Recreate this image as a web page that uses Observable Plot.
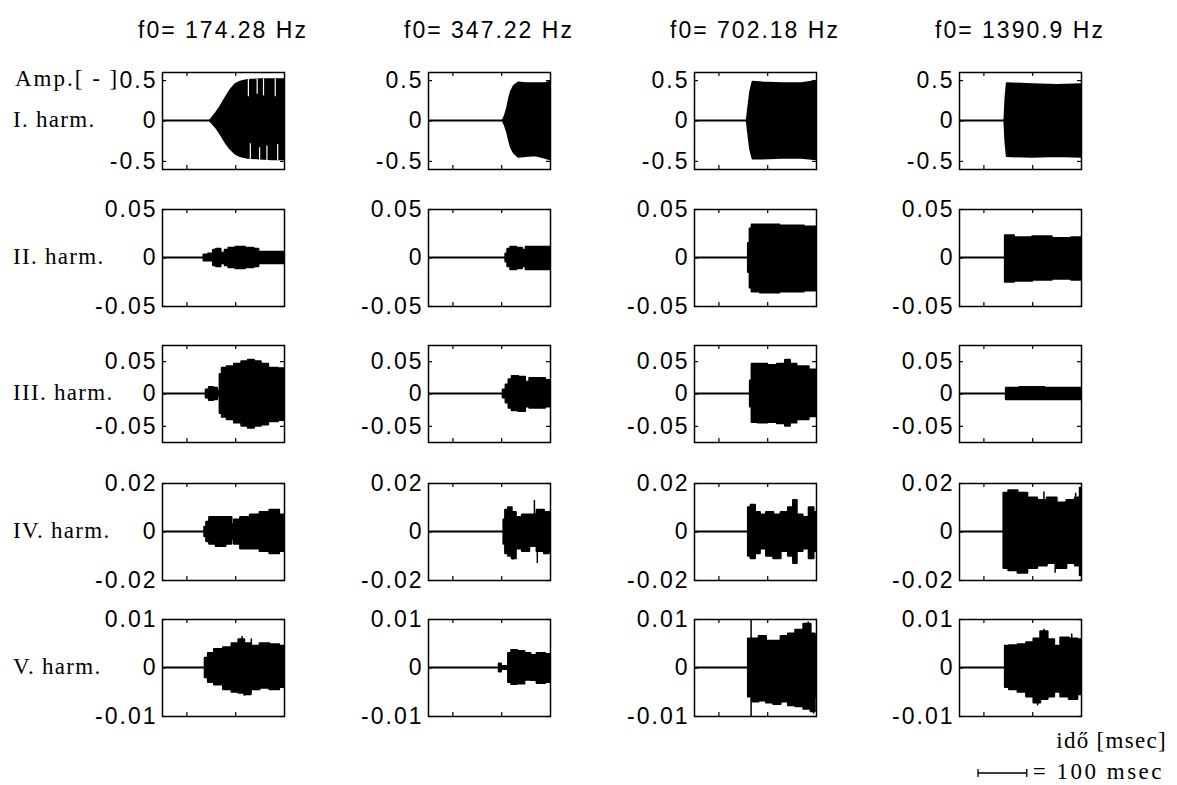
<!DOCTYPE html>
<html><head><meta charset="utf-8">
<script src="https://cdn.jsdelivr.net/npm/d3@7"></script>
<script src="https://cdn.jsdelivr.net/npm/@observablehq/plot@0.6"></script>
<style>
body{margin:0;background:#fff;}
#fig{position:relative;width:1177px;height:785px;overflow:hidden;background:#fff;}
.panel{position:absolute;}
#txt{position:absolute;left:0;top:0;pointer-events:none;}
</style></head><body><div id="fig"></div>
<script>
// ---- labels / ticks ----
const f0Labels = ["f0= 174.28 Hz", "f0= 347.22 Hz", "f0= 702.18 Hz", "f0= 1390.9 Hz"];
const harmLabels = ["I. harm.", "II. harm.", "III. harm.", "IV. harm.", "V. harm."];
const yMax = [0.6, 0.05, 0.075, 0.02, 0.01];
const yTicks = [[-0.5, 0, 0.5], [-0.05, 0, 0.05], [-0.05, 0, 0.05], [-0.02, 0, 0.02], [-0.01, 0, 0.01]];
const xDomain = [0, 250];       // msec
const xTicks = [50, 150];
const scaleBarMsec = 100;

// ---- envelopes: [time msec, upper, lower] ----
const h1_f174 = [[0,0,0],[98,0,0],[102,0.03,-0.03],[110,0.09,-0.08],[120,0.18,-0.17],[130,0.28,-0.27],[140,0.38,-0.35],[150,0.45,-0.41],[160,0.48,-0.44],[175,0.50,-0.46],[200,0.51,-0.47],[225,0.51,-0.48],[250,0.51,-0.48]];
const h1_f347 = [[0,0,0],[153,0,0],[157,0.05,-0.05],[162,0.15,-0.14],[166,0.27,-0.24],[170,0.36,-0.33],[176,0.43,-0.40],[185,0.47,-0.45],[200,0.46,-0.44],[220,0.46,-0.43],[240,0.46,-0.46],[250,0.48,-0.48]];
const h1_f702 = [[0,0,0],[108,0,0],[111,0.15,-0.15],[115,0.35,-0.35],[120,0.48,-0.47],[140,0.47,-0.47],[180,0.46,-0.46],[220,0.46,-0.46],[250,0.49,-0.48]];
const h1_f1391 = [[0,0,0],[93,0,0],[95,0.25,-0.25],[98,0.46,-0.44],[150,0.45,-0.45],[200,0.44,-0.44],[250,0.45,-0.45]];

const h2_f174 = [[0,0,0],[84,0,0],[86,0.003,-0.003],[103,0.004,-0.003],[106,0.008,-0.008],[115,0.009,-0.009],[125,0.005,-0.006],[132,0.008,-0.008],[140,0.010,-0.010],[160,0.011,-0.011],[180,0.010,-0.010],[195,0.009,-0.009],[200,0.006,-0.006],[250,0.006,-0.006]];
const h2_f347 = [[0,0,0],[157,0,0],[160,0.004,-0.004],[165,0.009,-0.009],[172,0.011,-0.012],[190,0.010,-0.011],[195,0.008,-0.009],[205,0.011,-0.012],[250,0.011,-0.012]];
const h2_f702 = [[0,0,0],[109,0,0],[112,0.015,-0.015],[116,0.030,-0.031],[120,0.034,-0.035],[150,0.034,-0.036],[200,0.033,-0.035],[250,0.032,-0.034]];
const h2_f1391 = [[0,0,0],[93,0,0],[95,0.023,-0.025],[130,0.021,-0.024],[170,0.022,-0.023],[210,0.020,-0.022],[250,0.021,-0.023]];

const h3_f174 = [[0,0,0],[87,0,0],[92,0.006,-0.006],[100,0.010,-0.010],[110,0.009,-0.009],[116,0.004,-0.004],[120,0.030,-0.030],[125,0.040,-0.036],[140,0.042,-0.040],[155,0.046,-0.045],[170,0.050,-0.050],[182,0.052,-0.053],[195,0.050,-0.050],[210,0.046,-0.048],[225,0.040,-0.043],[250,0.039,-0.041]];
const h3_f347 = [[0,0,0],[150,0,0],[156,0.006,-0.006],[162,0.014,-0.014],[168,0.022,-0.022],[175,0.027,-0.026],[195,0.026,-0.027],[203,0.018,-0.020],[212,0.024,-0.022],[230,0.024,-0.022],[250,0.021,-0.020]];
const h3_f702 = [[0,0,0],[113,0,0],[116,0.020,-0.020],[120,0.046,-0.044],[140,0.046,-0.045],[160,0.044,-0.044],[180,0.046,-0.046],[193,0.052,-0.050],[200,0.046,-0.045],[220,0.042,-0.040],[250,0.037,-0.035]];
const h3_f1391 = [[0,0,0],[95,0,0],[97,0.009,-0.009],[150,0.010,-0.009],[200,0.009,-0.009],[250,0.009,-0.009]];

const h4_f174 = [[0,0,0],[85,0,0],[88,0.002,-0.002],[93,0.004,-0.004],[100,0.006,-0.005],[120,0.006,-0.006],[140,0.006,-0.005],[145,0.003,-0.003],[150,0.005,-0.005],[170,0.006,-0.007],[190,0.007,-0.007],[210,0.008,-0.008],[230,0.009,-0.009],[250,0.007,-0.008]];
const h4_f347 = [[0,0,0],[153,0,0],[156,0.005,-0.005],[160,0.009,-0.009],[168,0.010,-0.010],[175,0.008,-0.011],[185,0.006,-0.007],[200,0.007,-0.008],[215,0.007,-0.006],[230,0.009,-0.008],[245,0.008,-0.009],[250,0.008,-0.008]];
const h4_f702 = [[0,0,0],[109,0,0],[112,0.010,-0.010],[120,0.011,-0.011],[130,0.008,-0.009],[140,0.007,-0.007],[155,0.008,-0.010],[170,0.007,-0.011],[185,0.008,-0.008],[200,0.010,-0.010],[206,0.013,-0.013],[215,0.007,-0.008],[230,0.006,-0.007],[240,0.010,-0.011],[250,0.008,-0.008]];
const h4_f1391 = [[0,0,0],[90,0,0],[92,0.016,-0.015],[110,0.017,-0.016],[130,0.016,-0.017],[150,0.014,-0.015],[170,0.013,-0.014],[190,0.014,-0.013],[210,0.012,-0.015],[230,0.013,-0.013],[245,0.014,-0.014],[250,0.018,-0.018]];

const h5_f174 = [[0,0,0],[85,0,0],[90,0.002,-0.002],[98,0.003,-0.003],[115,0.0038,-0.0035],[135,0.0042,-0.0045],[150,0.005,-0.005],[163,0.0058,-0.0052],[174,0.005,-0.0055],[190,0.0045,-0.0045],[210,0.005,-0.0042],[230,0.0048,-0.0045],[250,0.0045,-0.004]];
const h5_f347 = [[0,0,0],[143,0,0],[147,0.0008,-0.0008],[152,0.0003,-0.0003],[162,0.0003,-0.0003],[166,0.003,-0.003],[175,0.0036,-0.0034],[190,0.0034,-0.0033],[205,0.0030,-0.0025],[215,0.0026,-0.0026],[230,0.0030,-0.0032],[250,0.0028,-0.0030]];
const h5_f702 = [[0,0,0],[109,0,0],[112,0.006,-0.006],[125,0.006,-0.007],[140,0.0065,-0.0068],[155,0.0055,-0.0072],[170,0.0055,-0.0075],[185,0.0065,-0.007],[200,0.0070,-0.0078],[215,0.0078,-0.0080],[233,0.0090,-0.0085],[245,0.0070,-0.009],[250,0.0065,-0.006]];
const h5_f1391 = [[0,0,0],[93,0,0],[95,0.0045,-0.004],[110,0.0046,-0.0045],[130,0.0048,-0.0050],[145,0.0052,-0.0060],[160,0.0060,-0.0072],[173,0.0075,-0.0065],[190,0.0058,-0.0060],[200,0.0045,-0.0050],[215,0.0062,-0.0060],[235,0.0060,-0.0065],[250,0.0058,-0.0055]];

// isolated spikes beyond the envelope [time, upper, lower]
const spikes_h4_f347 = [[173, 0.004, -0.0115], [217, 0.013, -0.004], [223, 0.004, -0.013]];
const spikes_h4_f1391 = [[173, 0.0165, -0.004], [196, 0.004, -0.017], [238, 0.016, -0.004]];
const spikes_h5_f174 = [[163, 0.0065, -0.002], [182, 0.006, -0.002], [168, 0.002, -0.0058]];
const spikes_h5_f702 = [[116, 0.0105, -0.0105], [233, 0.0095, -0.002], [244, 0.002, -0.0095]];
const spikes_h5_f1391 = [[160, 0.002, -0.0078], [173, 0.008, -0.002], [230, 0.007, -0.002]];
// white notches cut into the filled envelope [time, from, to]
const notches_h1_f174 = [[176, 0.30, 0.52], [194, 0.33, 0.52], [207, 0.31, 0.52], [231, 0.30, 0.52], [180, -0.28, -0.49], [199, -0.33, -0.49], [214, -0.31, -0.49], [236, -0.29, -0.49]];

const grid = [
  [h1_f174, h1_f347, h1_f702, h1_f1391],
  [h2_f174, h2_f347, h2_f702, h2_f1391],
  [h3_f174, h3_f347, h3_f702, h3_f1391],
  [h4_f174, h4_f347, h4_f702, h4_f1391],
  [h5_f174, h5_f347, h5_f702, h5_f1391]
];
const spikeGrid = {"3-1": spikes_h4_f347, "3-3": spikes_h4_f1391, "4-0": spikes_h5_f174, "4-2": spikes_h5_f702, "4-3": spikes_h5_f1391};
const notchGrid = {"0-0": notches_h1_f174};

// ---- layout ----
const colLeft = [162, 428, 694, 959];
const rowTop = [72, 209, 345, 483, 619];
const PW = 122, PH = 97;
const ML = 84, MR = 6, MT = 14, MB = 14;
const fig = document.getElementById("fig");
const sansFont = "'Liberation Sans', Arial, sans-serif";
const serifFont = "'Liberation Serif', 'Times New Roman', serif";

let firstPlot = null;
grid.forEach((row, r) => {
  row.forEach((env, c) => {
    const data = env.map(([t, hi, lo]) => ({t, hi, lo}));
    const spk = spikeGrid[`${r}-${c}`] || [];
    const nch = notchGrid[`${r}-${c}`] || [];
    const plot = Plot.plot({
      width: ML + PW + MR, height: MT + PH + MB,
      marginLeft: ML, marginRight: MR, marginTop: MT, marginBottom: MB,
      x: {domain: xDomain, axis: null},
      y: {domain: [-yMax[r], yMax[r]], axis: null},
      style: {fontFamily: sansFont, fontSize: "23px", letterSpacing: "2px", background: "transparent", overflow: "visible", color: "black"},
      marks: [
        Plot.areaY(data, {x: "t", y1: "lo", y2: "hi", fill: "black", stroke: "black", strokeWidth: 2, curve: r === 0 ? "linear" : "step", clip: true}),
        Plot.ruleX(spk, {x: d => d[0], y1: d => d[2], y2: d => d[1], stroke: "black", strokeWidth: 1.5, clip: true}),
        Plot.ruleX(nch, {x: d => d[0], y1: d => d[1], y2: d => d[2], stroke: "white", strokeWidth: 1.2, clip: true}),
        Plot.tickX(xTicks, {x: d => d, insetBottom: PH - 4, stroke: "black", strokeWidth: 1.2}),
        Plot.tickX(xTicks, {x: d => d, insetTop: PH - 4, stroke: "black", strokeWidth: 1.2}),
        Plot.tickY(yTicks[r], {y: d => d, insetRight: PW - 4, stroke: "black", strokeWidth: 1.2}),
        Plot.tickY(yTicks[r], {y: d => d, insetLeft: PW - 4, stroke: "black", strokeWidth: 1.2}),
        Plot.axisY(yTicks[r], {tickSize: 0, tickPadding: 5, tickFormat: d => String(d), fontSize: 23, fill: "black"}),
        Plot.frame({stroke: "black", strokeWidth: 1.5})
      ]
    });
    if (!firstPlot) firstPlot = plot;
    const div = document.createElement("div");
    div.className = "panel";
    div.style.left = (colLeft[c] - ML) + "px";
    div.style.top = (rowTop[r] - MT) + "px";
    div.appendChild(plot);
    fig.appendChild(div);
  });
});

// ---- text overlay ----
const svg = d3.select(fig).append("svg").attr("id", "txt").attr("width", 1177).attr("height", 785);
f0Labels.forEach((s, c) => {
  svg.append("text").attr("x", colLeft[c] + PW / 2).attr("y", 38).attr("text-anchor", "middle")
    .style("font-family", sansFont).style("font-size", "23px").style("letter-spacing", "2px").text(s);
});
const zeroY = rowTop.map(t => t + PH / 2);
const serifStyle = sel => sel.style("font-family", serifFont).style("font-size", "23px").style("letter-spacing", "1.3px");
harmLabels.forEach((s, r) => {
  svg.append("text").attr("x", 13).attr("y", zeroY[r] + 6).call(serifStyle).text(s);
});
svg.append("text").attr("x", 15).attr("y", 86).call(serifStyle).style("letter-spacing", "2px").text("Amp.[ - ]");
svg.append("text").attr("x", 1167).attr("y", 748).attr("text-anchor", "end").call(serifStyle).text("idő [msec]");
// scale bar from the x scale
const sx = firstPlot.scale("x");
const barLen = sx.apply(scaleBarMsec) - sx.apply(0);
const bx0 = 978, by = 773;
const g = svg.append("g").attr("stroke", "black").attr("stroke-width", 1.3);
g.append("line").attr("x1", bx0).attr("x2", bx0 + barLen).attr("y1", by).attr("y2", by);
g.append("line").attr("x1", bx0).attr("x2", bx0).attr("y1", by - 4).attr("y2", by + 4);
g.append("line").attr("x1", bx0 + barLen).attr("x2", bx0 + barLen).attr("y1", by - 4).attr("y2", by + 4);
svg.append("text").attr("x", bx0 + barLen + 6).attr("y", 779).call(serifStyle).style("letter-spacing", "2.5px").text("= 100 msec");
</script>
</body></html>
